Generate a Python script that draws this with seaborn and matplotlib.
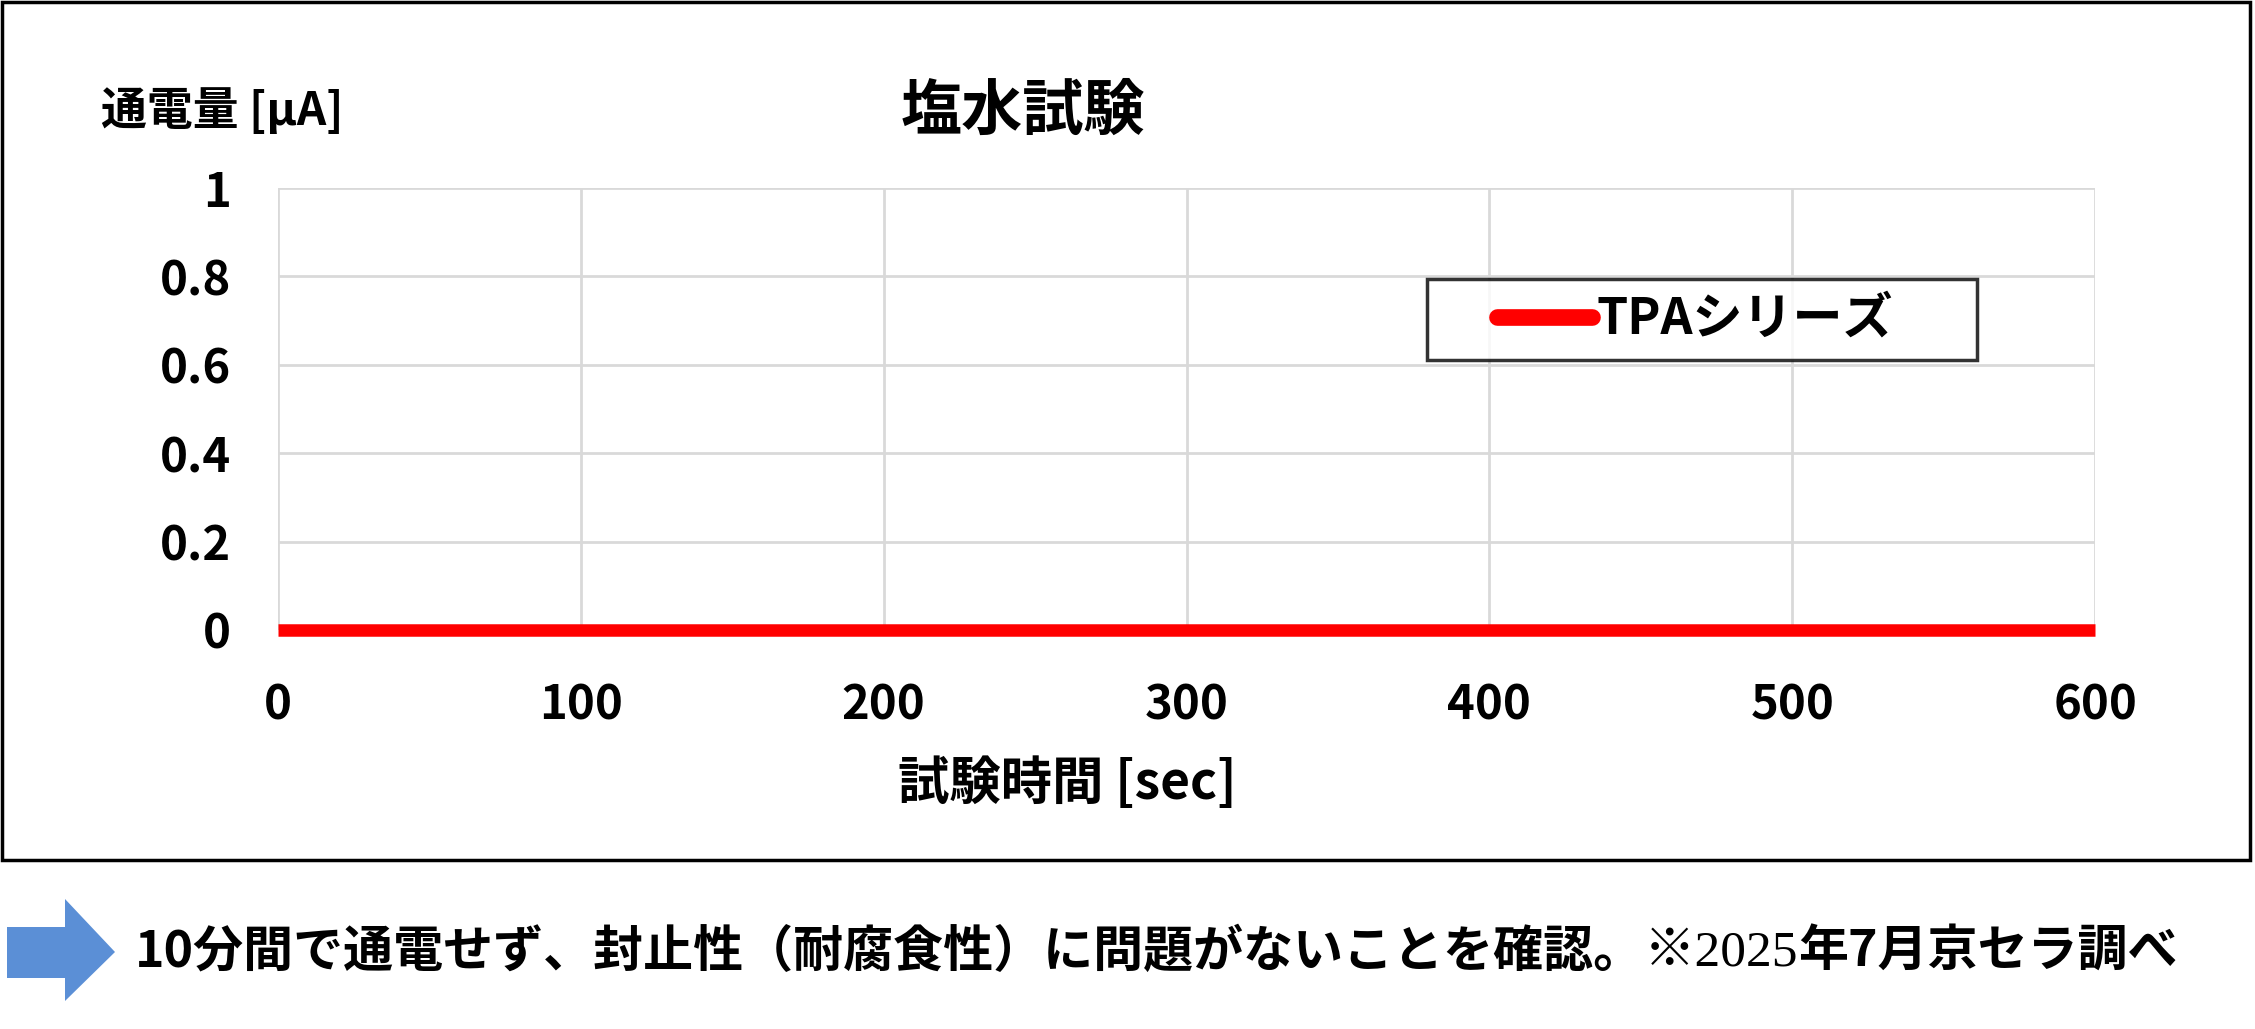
import numpy as np
import pandas as pd
import seaborn as sns
import matplotlib.pyplot as plt
from matplotlib.lines import Line2D
from matplotlib.legend_handler import HandlerLine2D
from matplotlib.patches import Rectangle, Polygon

# data
test_time = [0, 100, 200, 300, 400, 500, 600]
current = [0, 0, 0, 0, 0, 0, 0]
series_name = "TPAシリーズ"
x_ticks = [0, 100, 200, 300, 400, 500, 600]
y_ticks = [0, 0.2, 0.4, 0.6, 0.8, 1]
y_tick_labels = ["0", "0.2", "0.4", "0.6", "0.8", "1"]

sns.set_theme(style="white")
plt.rcParams["font.family"] = ["Noto Sans CJK JP", "DejaVu Sans"]
plt.rcParams["font.weight"] = "bold"
plt.rcParams["text.color"] = "black"
plt.rcParams["xtick.color"] = "black"
plt.rcParams["ytick.color"] = "black"

fig = plt.figure(figsize=(22.55, 10.29), dpi=100)
ax = fig.add_axes([0.1233, 0.3878, 0.8058, 0.4295])

df = pd.DataFrame({"time": test_time, "current": current})
sns.lineplot(data=df, x="time", y="current", color="#FF0000", linewidth=9,
             label=series_name, ax=ax, zorder=3)
ax.lines[0].set_clip_on(False)
ax.lines[0].set_solid_capstyle("butt")

ax.set_xlim(0, 600)
ax.set_ylim(0, 1)
ax.set_xticks(x_ticks)
ax.set_yticks(y_ticks)
ax.set_yticklabels(y_tick_labels)
ax.tick_params(axis="x", labelsize=34, pad=37, length=0, labelcolor="black")
ax.tick_params(axis="y", labelsize=34, pad=34, length=0, labelcolor="black")
for lab in ax.get_xticklabels() + ax.get_yticklabels():
    lab.set_fontweight("bold")
ax.grid(True, color="#D9D9D9", linewidth=2)
ax.set_axisbelow(True)
for s in ax.spines.values():
    s.set_visible(False)
ax.set_xlabel("")
ax.set_ylabel("")

# legend box like the original
lx0, ly0 = 1427 / 2255, 1 - 360 / 1029
lw, lh = (1977 - 1427) / 2255, 81 / 1029
leg = ax.legend(loc="lower left", bbox_to_anchor=(lx0, ly0, lw, lh), mode="expand",
                bbox_transform=fig.transFigure, fontsize=36, frameon=True,
                fancybox=False, edgecolor="black", handlelength=3.0,
                handletextpad=0.1, borderpad=0.3, borderaxespad=0,
                handler_map={Line2D: HandlerLine2D(xpad=1.1)})
leg.get_frame().set_linewidth(2.5)
for t in leg.get_texts():
    t.set_fontweight("bold")
    t.set_color("black")
for h in leg.get_lines():
    h.set_solid_capstyle("round")
    h.set_linewidth(12)

# titles placed like the original
fig.text(711 / 1568, 1 - 112 / 1029, "塩水試験", fontsize=44, fontweight="bold",
         ha="center", va="center")
fig.text(101 / 2255, 1 - 112 / 1029, "通電量 [μA]", fontsize=33, fontweight="bold",
         ha="left", va="center")
fig.text(742 / 1568, 1 - 784 / 1029, "試験時間 [sec]", fontsize=37, fontweight="bold",
         ha="center", va="center")

# outer frame around the chart
fig.patches.append(Rectangle((0.001, 1 - 860 / 1029), 0.997, 860 / 1029 - 0.002,
                             transform=fig.transFigure, fill=False,
                             edgecolor="black", linewidth=2.5))

# blue arrow and note below
arrow_pts = [(7, 927), (65, 927), (65, 899), (115, 952), (65, 1001), (65, 978), (7, 978)]
fig.patches.append(Polygon([(x / 2255, 1 - y / 1029) for x, y in arrow_pts],
                           closed=True, transform=fig.transFigure,
                           facecolor="#5B8FD6", edgecolor="none"))
t1 = fig.text(135 / 2255, 1 - 952 / 1029, "10分間で通電せず、封止性（耐腐食性）に問題がないことを確認。",
              fontsize=36, fontweight="bold", ha="left", va="center")
ann = plt.annotate("※2025", xy=(1, 0), xycoords=t1, va="bottom", ha="left",
                   fontsize=37, fontweight="normal",
                   family=["Liberation Serif", "Noto Sans CJK JP"],
                   annotation_clip=False)
plt.annotate("年7月京セラ調べ", xy=(1, 0), xycoords=ann, va="bottom", ha="left",
             fontsize=36, fontweight="bold", annotation_clip=False)

fig.savefig("out.png", dpi=100)
